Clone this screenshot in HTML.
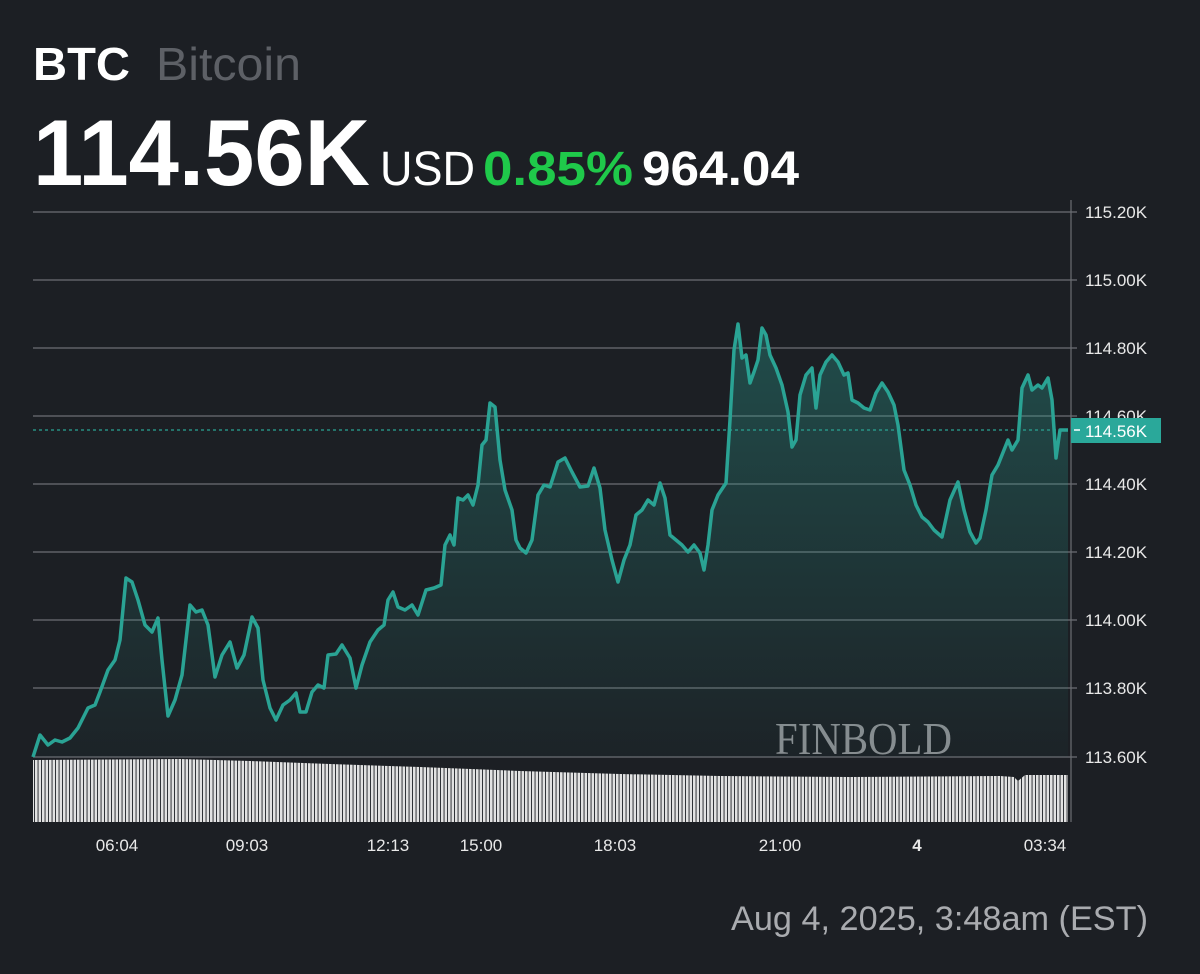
<!DOCTYPE html>
<html><head><meta charset="utf-8"><style>
html,body{margin:0;padding:0;background:#1c1f24;}
body{width:1200px;height:974px;position:relative;overflow:hidden;font-family:"Liberation Sans",sans-serif;}
</style></head><body>
<svg width="1200" height="974" style="position:absolute;left:0;top:0">
<defs>
<linearGradient id="g" x1="0" y1="0" x2="0" y2="1"><stop offset="0" stop-color="#2aa394" stop-opacity="0.35"/><stop offset="1" stop-color="#2aa394" stop-opacity="0.03"/></linearGradient>
<pattern id="p" width="3.5" height="10" patternUnits="userSpaceOnUse"><rect width="2.6" height="10" fill="#e2e2e2"/></pattern>
</defs>
<g font-family="Liberation Sans,sans-serif">
<text x="33" y="80" font-size="46" font-weight="bold" fill="#fff" textLength="97" lengthAdjust="spacingAndGlyphs">BTC</text>
<text x="156" y="80" font-size="46" fill="#5d6066" textLength="145" lengthAdjust="spacingAndGlyphs">Bitcoin</text>
<text x="33" y="185" font-size="94" font-weight="bold" fill="#fff" textLength="337" lengthAdjust="spacingAndGlyphs">114.56K</text>
<text x="380" y="185" font-size="48" fill="#fff" textLength="95" lengthAdjust="spacingAndGlyphs">USD</text>
<text x="483" y="185" font-size="48" font-weight="bold" fill="#1fc94a" textLength="150" lengthAdjust="spacingAndGlyphs">0.85%</text>
<text x="642" y="185" font-size="48" font-weight="bold" fill="#fff" textLength="157" lengthAdjust="spacingAndGlyphs">964.04</text>
</g>
<g stroke="#6b6e73" stroke-width="1.2">
<line x1="33" y1="212" x2="1077" y2="212"/><line x1="33" y1="280" x2="1077" y2="280"/><line x1="33" y1="348" x2="1077" y2="348"/><line x1="33" y1="416" x2="1077" y2="416"/><line x1="33" y1="484" x2="1077" y2="484"/><line x1="33" y1="552" x2="1077" y2="552"/><line x1="33" y1="620" x2="1077" y2="620"/><line x1="33" y1="688" x2="1077" y2="688"/><line x1="33" y1="757" x2="1077" y2="757"/>
</g>
<line x1="1071" y1="200" x2="1071" y2="822" stroke="#6b6e73" stroke-width="1.2"/>
<text x="775" y="754" font-family="Liberation Serif,serif" font-size="46" fill="#8a8c90" textLength="177" lengthAdjust="spacingAndGlyphs">FINBOLD</text>
<polygon fill="url(#p)" points="33,760 180,759 250,761 330,764 420,767 520,771 620,774 720,776 850,777 1000,776 1014,777 1018,781 1025,775 1068,775 1068,822 33,822"/>
<path fill="url(#g)" d="M33,757 L40,735 48,745 55,740 62,742 70,738 78,728 88,708 95,705 100,692 108,670 115,660 120,640 126,578 132,582 138,600 145,625 152,632 158,618 162,660 168,716 175,700 182,675 190,605 196,612 202,610 208,625 215,677 222,655 230,642 237,668 244,655 252,617 258,628 263,680 270,708 276,720 283,705 290,700 296,693 300,712 306,712 312,692 318,685 324,688 328,655 336,654 342,645 350,658 356,688 362,665 370,642 378,630 384,625 388,600 393,592 398,607 405,610 412,605 418,615 426,590 434,588 441,585 445,545 450,535 454,545 458,498 463,500 468,495 473,505 478,485 482,445 486,440 490,403 495,407 500,460 505,490 512,510 516,540 520,548 526,553 532,540 538,495 544,485 550,487 558,462 565,458 572,472 580,487 588,486 594,468 600,488 605,530 612,560 618,582 624,560 630,545 636,515 642,510 648,500 654,505 660,483 665,498 670,535 676,540 682,545 688,552 694,545 700,553 704,570 708,545 712,510 718,495 726,483 730,420 734,350 738,324 742,358 746,355 750,383 754,372 758,360 762,328 766,335 770,355 776,368 782,385 788,412 792,447 796,440 800,395 806,375 812,368 816,408 820,375 826,362 832,355 838,362 844,375 848,373 852,400 858,403 864,408 870,410 876,393 882,383 888,392 894,405 898,425 904,470 910,485 916,505 922,517 928,522 934,530 942,537 950,500 958,482 964,510 970,532 976,543 980,538 986,510 992,475 998,465 1004,450 1008,440 1012,450 1018,440 1022,388 1028,375 1032,390 1038,385 1042,388 1048,378 1052,400 1056,458 1060,430 1068,430 L1068,757 L33,757 Z"/>
<path fill="none" stroke="#2aa394" stroke-width="3.5" stroke-linejoin="round" d="M33,757 L40,735 48,745 55,740 62,742 70,738 78,728 88,708 95,705 100,692 108,670 115,660 120,640 126,578 132,582 138,600 145,625 152,632 158,618 162,660 168,716 175,700 182,675 190,605 196,612 202,610 208,625 215,677 222,655 230,642 237,668 244,655 252,617 258,628 263,680 270,708 276,720 283,705 290,700 296,693 300,712 306,712 312,692 318,685 324,688 328,655 336,654 342,645 350,658 356,688 362,665 370,642 378,630 384,625 388,600 393,592 398,607 405,610 412,605 418,615 426,590 434,588 441,585 445,545 450,535 454,545 458,498 463,500 468,495 473,505 478,485 482,445 486,440 490,403 495,407 500,460 505,490 512,510 516,540 520,548 526,553 532,540 538,495 544,485 550,487 558,462 565,458 572,472 580,487 588,486 594,468 600,488 605,530 612,560 618,582 624,560 630,545 636,515 642,510 648,500 654,505 660,483 665,498 670,535 676,540 682,545 688,552 694,545 700,553 704,570 708,545 712,510 718,495 726,483 730,420 734,350 738,324 742,358 746,355 750,383 754,372 758,360 762,328 766,335 770,355 776,368 782,385 788,412 792,447 796,440 800,395 806,375 812,368 816,408 820,375 826,362 832,355 838,362 844,375 848,373 852,400 858,403 864,408 870,410 876,393 882,383 888,392 894,405 898,425 904,470 910,485 916,505 922,517 928,522 934,530 942,537 950,500 958,482 964,510 970,532 976,543 980,538 986,510 992,475 998,465 1004,450 1008,440 1012,450 1018,440 1022,388 1028,375 1032,390 1038,385 1042,388 1048,378 1052,400 1056,458 1060,430 1068,430"/>
<line x1="33" y1="430" x2="1068" y2="430" stroke="#2aa394" stroke-width="1.2" stroke-dasharray="3,3"/>
<g font-family="Liberation Sans,sans-serif" font-size="17" fill="#e8e8e8">
<text x="1085" y="218">115.20K</text><text x="1085" y="286">115.00K</text><text x="1085" y="354">114.80K</text><text x="1085" y="422">114.60K</text><text x="1085" y="490">114.40K</text><text x="1085" y="558">114.20K</text><text x="1085" y="626">114.00K</text><text x="1085" y="694">113.80K</text><text x="1085" y="763">113.60K</text>
</g>
<rect x="1071" y="418" width="90" height="25" fill="#2aa89a"/>
<line x1="1074" y1="430" x2="1080" y2="430" stroke="#fff" stroke-width="1.5"/>
<text x="1085" y="437" font-family="Liberation Sans,sans-serif" font-size="17" fill="#fff">114.56K</text>
<g font-family="Liberation Sans,sans-serif" font-size="17" fill="#e8e8e8" text-anchor="middle">
<text x="117" y="851">06:04</text><text x="247" y="851">09:03</text><text x="388" y="851">12:13</text><text x="481" y="851">15:00</text><text x="615" y="851">18:03</text><text x="780" y="851">21:00</text><text x="917" y="851" font-weight="bold">4</text><text x="1045" y="851">03:34</text>
</g>
<text x="731" y="930" font-family="Liberation Sans,sans-serif" font-size="34" fill="#a9abaf" textLength="417" lengthAdjust="spacingAndGlyphs">Aug 4, 2025, 3:48am (EST)</text>
</svg>
</body></html>
